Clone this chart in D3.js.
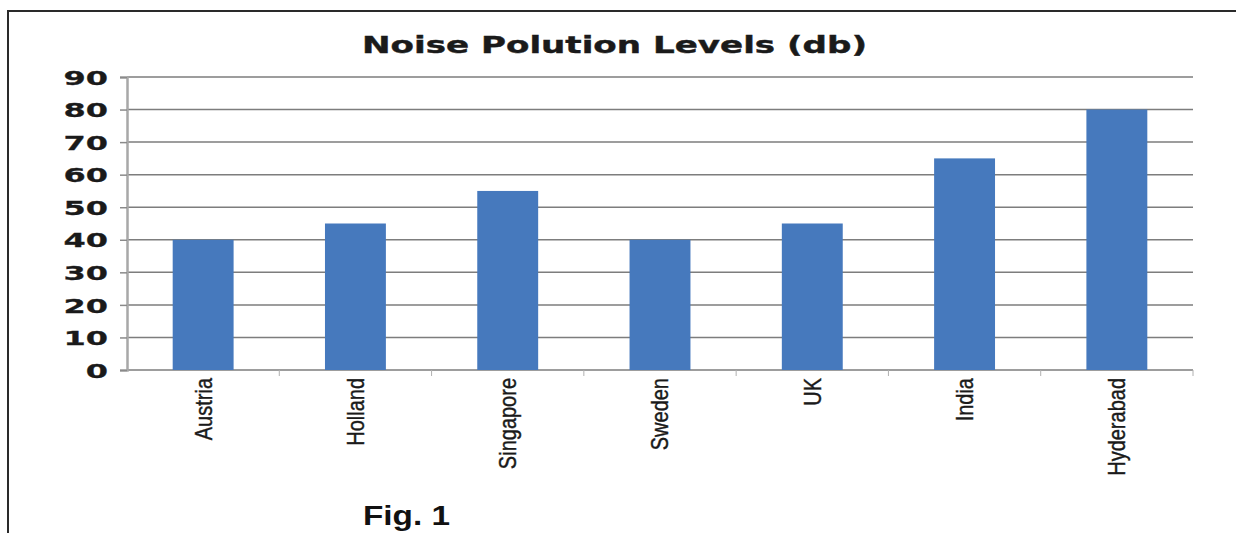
<!DOCTYPE html>
<html>
<head>
<meta charset="utf-8">
<script src="https://cdn.jsdelivr.net/npm/d3@7"></script>
<style>
	html, body { margin: 0; padding: 0; background: #fff; }
	svg { display: block; }
</style>
</head>
<body>
<svg id="chart" width="1236" height="533"></svg>
<script>
// data
const categories = ['Austria', 'Holland', 'Singapore', 'Sweden', 'UK', 'India', 'Hyderabad'];
const values = [40, 45, 55, 40, 45, 65, 80];
const yTicks = [0, 10, 20, 30, 40, 50, 60, 70, 80, 90];
const title = 'Noise Polution Levels (db)';
const caption = 'Fig. 1';

const svg = d3.select('#chart');
const W = +svg.attr('width');
const H = +svg.attr('height');

// the source image is stretched sideways, so text is too
const SX = 1.6;
const plot = {left: 127, right: 1193, top: 77, bottom: 370};

const xScale = d3.scaleBand()
	.domain(categories)
	.range([plot.left, plot.right])
	.paddingInner(0.6)
	.paddingOuter(0.3);

const yScale = d3.scaleLinear()
	.domain([0, 90])
	.range([plot.bottom, plot.top]);

// frame
svg.append('path')
	.attr('d', `M8,${H} L8,11 L${W},11`)
	.attr('fill', 'none')
	.attr('stroke', '#2a2a2a')
	.attr('stroke-width', 2);

// title
svg.append('text')
	.attr('x', 362)
	.attr('y', 53)
	.attr('textLength', 505)
	.attr('lengthAdjust', 'spacingAndGlyphs')
	.style('font-family', '"DejaVu Sans", Verdana, sans-serif')
	.style('font-weight', 'bold')
	.style('font-size', '23px')
	.attr('fill', '#1a1a1a')
	.attr('stroke', '#1a1a1a')
	.attr('stroke-width', 0.4)
	.text(title);

// gridlines
svg.append('g')
	.selectAll('line')
	.data(yTicks)
	.join('line')
	.attr('x1', plot.left)
	.attr('x2', plot.right)
	.attr('y1', d => yScale(d))
	.attr('y2', d => yScale(d))
	.attr('stroke', '#7d7d7d')
	.attr('stroke-width', 1.5);

// bars
svg.append('g')
	.selectAll('rect')
	.data(values)
	.join('rect')
	.attr('x', (d, i) => xScale(categories[i]))
	.attr('y', d => yScale(d))
	.attr('width', xScale.bandwidth())
	.attr('height', d => yScale(0) - yScale(d))
	.attr('fill', '#4679bd');

// y axis
const yAxisG = svg.append('g')
	.attr('transform', `translate(${plot.left},0)`)
	.call(d3.axisLeft(yScale).tickValues(yTicks).tickSize(7).tickPadding(0));
yAxisG.select('.domain')
	.attr('stroke', '#a8a8a8')
	.attr('stroke-width', 2.5);
yAxisG.selectAll('.tick line')
	.attr('stroke', '#8a8a8a')
	.attr('stroke-width', 1.5);
yAxisG.selectAll('.tick text')
	.attr('x', -19 / SX)
	.attr('dy', '0.36em')
	.attr('transform', `scale(${SX},1)`)
	.attr('fill', '#1a1a1a')
	.attr('stroke', '#1a1a1a')
	.attr('stroke-width', 0.3)
	.style('font-family', '"DejaVu Sans", Verdana, sans-serif')
	.style('font-weight', 'bold')
	.style('font-size', '20px');

// x axis: small ticks between categories
const boundaries = categories.map(c => xScale(c) + xScale.bandwidth() + (xScale.step() - xScale.bandwidth()) / 2);
svg.append('g')
	.selectAll('line')
	.data(boundaries)
	.join('line')
	.attr('x1', d => d)
	.attr('x2', d => d)
	.attr('y1', plot.bottom)
	.attr('y2', plot.bottom + 6)
	.attr('stroke', '#b0b0b0')
	.attr('stroke-width', 1);

const xAxisG = svg.append('g')
	.attr('transform', `translate(0,${plot.bottom})`)
	.call(d3.axisBottom(xScale).tickSize(0));
xAxisG.select('.domain').remove();
xAxisG.selectAll('.tick text')
	.attr('x', 0)
	.attr('y', 0)
	.attr('dy', '0.35em')
	.attr('text-anchor', 'end')
	.attr('transform', `translate(0,8) scale(1.2,1) rotate(-90)`)
	.attr('fill', '#1a1a1a')
	.attr('stroke', '#1a1a1a')
	.attr('stroke-width', 0.35)
	.style('font-family', '"Liberation Sans", Arial, sans-serif')
	.style('font-size', '20px');

// caption
svg.append('text')
	.attr('x', 363)
	.attr('y', 525)
	.attr('textLength', 87)
	.attr('lengthAdjust', 'spacingAndGlyphs')
	.style('font-family', '"Liberation Sans", Arial, sans-serif')
	.style('font-weight', 'bold')
	.style('font-size', '28px')
	.attr('fill', '#111')
	.text(caption);
</script>
</body>
</html>
